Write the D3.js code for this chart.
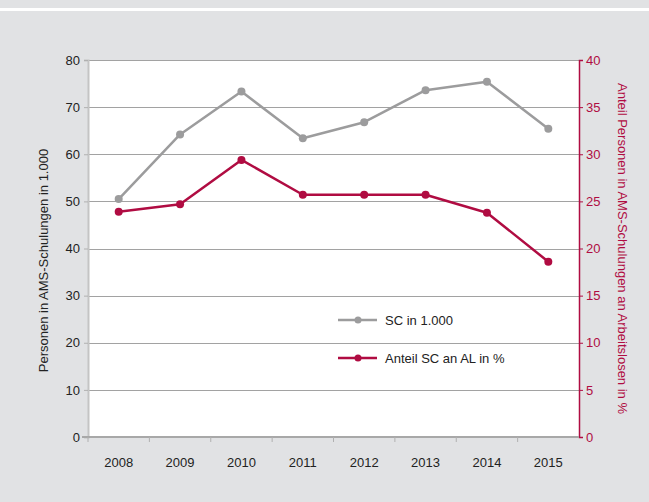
<!DOCTYPE html>
<html>
<head>
    <style>
        body { margin: 0; background: #fff; }
        svg { display: block; font-family: "Liberation Sans", Arial, sans-serif; }
        .tick text { font-size: 13px; }
    </style>
    <script src="https://d3js.org/d3.v7.min.js"></script>
</head>
<body>
    <script>
        // data
        var years = ["2008", "2009", "2010", "2011", "2012", "2013", "2014", "2015"];
        var scValues = [50.5, 64.2, 73.3, 63.4, 66.8, 73.6, 75.4, 65.4];
        var shareValues = [23.9, 24.7, 29.4, 25.7, 25.7, 25.7, 23.8, 18.6];
        var leftTicks = [0, 10, 20, 30, 40, 50, 60, 70, 80];
        var rightTicks = [0, 5, 10, 15, 20, 25, 30, 35, 40];
        var seriesNames = ["SC in 1.000", "Anteil SC an AL in %"];

        var width = 649, height = 502;
        var grey = "#9c9c9d", red = "#b00c42", bg = "#e1e2e4";

        var svg = d3.select("body").append("svg")
            .attr("width", width).attr("height", height);

        // background, with the white strip near the top
        svg.append("rect").attr("width", width).attr("height", height).attr("fill", bg);
        svg.append("rect").attr("x", 0).attr("y", 8).attr("width", width).attr("height", 3).attr("fill", "#fff");

        var pLeft = 88, pRight = 579, pTop = 60, pBottom = 437;

        var x = d3.scaleBand().domain(years).range([pLeft, pRight]);
        var yL = d3.scaleLinear().domain([0, 80]).range([pBottom, pTop]);
        var yR = d3.scaleLinear().domain([0, 40]).range([pBottom, pTop]);

        svg.append("rect")
            .attr("x", pLeft).attr("y", pTop)
            .attr("width", pRight - pLeft).attr("height", pBottom - pTop)
            .attr("fill", "#fff");

        // gridlines
        svg.append("g").selectAll("line")
            .data(leftTicks.slice(1))
            .enter().append("line")
            .attr("x1", pLeft).attr("x2", pRight)
            .attr("y1", function(d) { return Math.round(yL(d)) + 0.5; })
            .attr("y2", function(d) { return Math.round(yL(d)) + 0.5; })
            .attr("stroke", "#a2a2a2").attr("stroke-width", 1);

        // left axis
        var gl = svg.append("g")
            .attr("transform", "translate(" + pLeft + ",0)")
            .call(d3.axisLeft(yL).tickValues(leftTicks).tickSize(4).tickPadding(4));
        gl.select(".domain").attr("stroke", "#c4c4c4").attr("stroke-width", 2);
        gl.selectAll(".tick line").attr("stroke", "#b0b0b0");
        gl.selectAll(".tick text").attr("fill", "#222");

        // right axis
        var gr = svg.append("g")
            .attr("transform", "translate(" + pRight + ",0)")
            .call(d3.axisRight(yR).tickValues(rightTicks).tickSize(4).tickPadding(3));
        gr.select(".domain").attr("stroke", red).attr("stroke-width", 1.5);
        gr.selectAll(".tick line").attr("stroke", red);
        gr.selectAll(".tick text").attr("fill", red);

        // bottom axis
        var gb = svg.append("g")
            .attr("transform", "translate(0," + pBottom + ")");
        gb.append("line")
            .attr("x1", pLeft - 6).attr("x2", pRight)
            .attr("y1", 0).attr("y2", 0)
            .attr("stroke", "#a8a8a8").attr("stroke-width", 2);
        gb.selectAll(".btick")
            .data(years)
            .enter().append("line")
            .attr("x1", function(d) { return x(d); })
            .attr("x2", function(d) { return x(d); })
            .attr("y1", 0).attr("y2", 5)
            .attr("stroke", "#b0b0b0");
        gb.selectAll("text")
            .data(years)
            .enter().append("text")
            .attr("x", function(d) { return x(d) + x.bandwidth() / 2; })
            .attr("y", 30)
            .attr("text-anchor", "middle")
            .attr("font-size", 13)
            .attr("fill", "#222")
            .text(function(d) { return d; });

        // lines
        var cx = function(d, i) { return x(years[i]) + x.bandwidth() / 2; };
        var series = [
            { values: scValues, scale: yL, color: grey },
            { values: shareValues, scale: yR, color: red }
        ];
        series.forEach(function(s) {
            var line = d3.line().x(cx).y(function(d) { return s.scale(d); });
            svg.append("path")
                .datum(s.values)
                .attr("d", line)
                .attr("fill", "none")
                .attr("stroke", s.color)
                .attr("stroke-width", 2.5)
                .attr("stroke-linejoin", "round");
            svg.append("g").selectAll("circle")
                .data(s.values)
                .enter().append("circle")
                .attr("cx", cx)
                .attr("cy", function(d) { return s.scale(d); })
                .attr("r", 4)
                .attr("fill", s.color);
        });

        // legend
        var legend = svg.append("g").attr("transform", "translate(338,320)");
        [grey, red].forEach(function(c, i) {
            var g = legend.append("g").attr("transform", "translate(0," + (i * 38) + ")");
            g.append("line").attr("x1", 0).attr("x2", 39).attr("y1", 0).attr("y2", 0)
                .attr("stroke", c).attr("stroke-width", 2.5);
            g.append("circle").attr("cx", 20).attr("cy", 0).attr("r", 3.5).attr("fill", c);
            g.append("text").attr("x", 47).attr("y", 5)
                .attr("font-size", 13).attr("fill", "#222")
                .text(seriesNames[i]);
        });

        // axis titles
        svg.append("text")
            .attr("transform", "translate(48," + ((pTop + pBottom) / 2 + 12) + ") rotate(-90)")
            .attr("text-anchor", "middle")
            .attr("font-size", 13)
            .attr("fill", "#222")
            .text("Personen in AMS-Schulungen in 1.000");
        svg.append("text")
            .attr("transform", "translate(618," + ((pTop + pBottom) / 2) + ") rotate(90)")
            .attr("text-anchor", "middle")
            .attr("font-size", 13)
            .attr("fill", red)
            .text("Anteil Personen in AMS-Schulungen an Arbeitslosen in %");
    </script>
</body>
</html>
